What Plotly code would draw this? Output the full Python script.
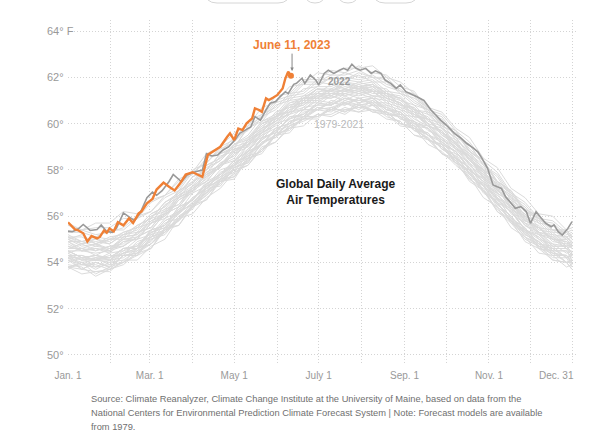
import plotly.graph_objects as go

# ---------------- data ----------------
GRAY_DAYS = [0, 10, 20, 30, 40, 50, 60, 70, 80, 90, 100, 110, 120, 130, 140, 150, 160, 170, 180,
             190, 200, 210, 220, 230, 240, 250, 260, 270, 280, 290, 300, 310, 320, 330, 340, 350, 360, 364]

t1979 = [53.9,53.8,53.4,53.7,54.0,54.3,54.6,55.5,55.6,56.4,56.9,57.5,57.7,58.6,58.8,59.5,59.8,60.2,60.3,60.6,60.4,60.8,60.5,60.5,60.0,59.8,59.3,59.0,58.4,57.9,57.0,56.6,55.7,55.3,54.6,54.4,54.0,54.0]
t1980 = [54.2,53.7,54.0,53.8,54.3,54.4,55.0,55.3,56.0,56.3,57.2,57.3,58.1,58.4,59.1,59.5,60.1,60.2,60.7,60.6,60.9,60.6,61.0,60.5,60.3,59.8,59.6,58.9,58.6,57.8,57.3,56.5,56.0,55.2,54.9,54.3,54.3,54.0]
t1981 = [54.3,53.9,53.9,53.7,54.3,54.3,55.0,55.2,55.9,56.4,57.1,57.5,58.1,58.3,59.2,59.5,60.0,60.3,60.6,60.7,60.9,60.8,60.9,60.4,60.4,59.8,59.5,59.0,58.6,57.8,57.4,56.5,56.0,55.2,54.9,54.4,54.3,54.0]
t1982 = [53.7,54.0,53.5,53.8,54.0,54.4,54.8,55.3,55.8,56.4,56.7,57.6,57.7,58.4,58.9,59.5,59.6,60.3,60.3,60.6,60.6,60.7,60.6,60.5,60.0,59.9,59.3,59.0,58.3,58.0,57.1,56.6,55.8,55.4,54.7,54.6,54.2,54.3]
t1983 = [54.4,54.1,54.1,54.1,54.4,54.6,55.3,55.5,56.1,56.6,57.2,57.6,58.2,58.5,59.2,59.4,60.1,60.3,60.7,60.6,61.0,60.8,60.9,60.4,60.3,59.7,59.4,58.7,58.5,57.6,57.1,56.3,55.8,55.1,54.7,54.2,54.2,53.8]
t1984 = [53.8,53.7,53.6,53.7,53.9,54.4,54.6,55.4,55.6,56.5,56.7,57.5,57.6,58.5,58.7,59.5,59.8,60.2,60.2,60.7,60.5,60.9,60.5,60.4,59.9,59.8,59.1,58.8,58.2,57.7,56.8,56.4,55.5,55.1,54.4,54.3,53.8,53.9]
t1985 = [53.8,53.5,53.6,53.6,54.1,54.1,54.7,55.0,55.9,56.1,56.8,57.2,57.9,58.2,59.0,59.2,59.9,60.1,60.4,60.4,60.7,60.5,60.8,60.3,60.1,59.5,59.4,58.7,58.3,57.6,57.2,56.2,55.7,55.0,54.7,54.1,54.0,53.7]
t1986 = [54.1,53.7,54.0,53.8,54.3,54.3,55.1,55.3,55.9,56.4,57.0,57.4,58.1,58.3,59.2,59.4,59.9,60.2,60.6,60.5,60.9,60.7,60.8,60.4,60.3,59.7,59.6,58.9,58.7,57.8,57.3,56.5,56.0,55.3,54.9,54.4,54.3,54.1]
t1987 = [54.2,54.0,54.1,54.0,54.4,54.6,55.1,55.4,56.2,56.5,57.2,57.6,58.3,58.6,59.4,59.6,60.3,60.4,60.9,60.8,61.1,61.0,61.1,60.6,60.5,60.0,59.8,59.1,58.8,58.0,57.6,56.7,56.2,55.4,55.1,54.6,54.6,54.3]
t1988 = [54.5,54.2,54.3,54.1,54.6,54.7,55.3,55.5,56.3,56.7,57.4,57.7,58.3,58.6,59.3,59.7,60.2,60.4,60.8,60.8,61.1,60.9,61.0,60.6,60.4,59.9,59.5,58.9,58.5,57.7,57.3,56.4,55.9,55.1,54.8,54.3,54.3,53.9]
t1989 = [53.8,53.9,53.8,53.9,54.0,54.6,54.8,55.5,55.8,56.5,57.0,57.6,57.9,58.7,59.1,59.7,59.9,60.5,60.6,60.9,60.8,61.1,60.8,60.7,60.2,60.0,59.5,59.2,58.5,58.1,57.3,56.8,55.9,55.5,54.8,54.6,54.2,54.3]
t1990 = [54.3,54.1,54.2,54.2,54.6,54.6,55.4,55.6,56.2,56.7,57.3,57.7,58.4,58.5,59.4,59.6,60.3,60.3,60.9,60.8,61.2,60.9,61.1,60.7,60.5,59.9,59.8,59.2,58.8,58.0,57.5,56.7,56.2,55.4,55.1,54.5,54.5,54.2]
t1991 = [54.2,54.2,54.1,54.3,54.3,54.9,55.1,55.8,56.1,56.8,57.2,57.8,58.2,58.8,59.1,59.8,60.0,60.6,60.6,60.9,60.8,61.1,60.8,60.8,60.2,60.1,59.3,59.1,58.3,58.0,57.1,56.6,55.8,55.4,54.7,54.5,54.0,54.1]
t1992 = [54.1,53.9,54.0,53.8,54.3,54.4,55.1,55.3,56.0,56.4,57.1,57.4,58.0,58.2,58.9,59.2,59.8,59.9,60.4,60.3,60.6,60.5,60.6,60.2,60.1,59.5,59.3,58.7,58.4,57.5,57.1,56.2,55.8,54.9,54.6,54.1,54.0,53.7]
t1993 = [53.8,54.0,53.7,54.0,54.1,54.5,54.8,55.4,55.8,56.5,56.9,57.5,57.8,58.5,58.8,59.6,59.7,60.3,60.3,60.7,60.5,60.8,60.6,60.5,60.0,59.8,59.3,59.1,58.4,57.9,57.1,56.6,55.7,55.4,54.6,54.5,54.0,54.1]
t1994 = [54.2,53.9,54.2,53.9,54.4,54.5,55.2,55.4,56.2,56.5,57.3,57.5,58.2,58.7,59.3,59.7,60.2,60.4,60.8,60.8,61.1,61.0,61.1,60.6,60.5,60.0,59.9,59.2,58.8,58.1,57.6,56.7,56.3,55.4,55.2,54.6,54.6,54.3]
t1995 = [54.5,54.2,54.3,54.2,54.6,54.7,55.4,55.6,56.4,56.7,57.5,57.8,58.4,58.8,59.5,59.8,60.4,60.6,61.0,60.9,61.3,61.1,61.2,60.8,60.6,60.1,59.8,59.1,58.8,58.0,57.5,56.6,56.2,55.4,55.0,54.5,54.5,54.1]
t1996 = [54.0,54.2,53.8,54.1,54.2,54.6,54.9,55.7,55.9,56.6,57.0,57.7,58.0,58.8,59.1,59.8,60.0,60.6,60.6,61.0,60.9,61.1,60.9,60.9,60.3,60.1,59.5,59.3,58.5,58.1,57.3,56.8,55.9,55.5,54.8,54.7,54.2,54.4]
t1997 = [54.3,54.1,54.2,54.1,54.5,54.7,55.3,55.6,56.3,56.7,57.4,57.8,58.4,58.9,59.6,60.0,60.5,60.7,61.2,61.1,61.4,61.3,61.4,61.0,60.8,60.3,60.2,59.6,59.2,58.4,58.0,57.1,56.6,55.8,55.5,55.0,54.9,54.7]
t1998 = [55.0,54.8,54.9,54.8,55.2,55.3,56.0,56.2,56.9,57.3,58.0,58.4,59.0,59.2,60.0,60.2,60.9,61.0,61.5,61.4,61.7,61.6,61.7,61.2,61.1,60.5,60.0,59.3,59.0,58.2,57.7,56.8,56.4,55.6,55.3,54.7,54.7,54.4]
t1999 = [54.3,54.3,54.1,54.2,54.4,54.8,55.1,55.8,56.1,56.8,57.2,57.9,58.1,58.9,59.3,60.0,60.2,60.7,60.8,61.2,61.0,61.3,61.1,61.0,60.4,60.3,59.7,59.4,58.7,58.3,57.4,57.0,56.1,55.7,55.0,54.8,54.4,54.5]
t2000 = [54.5,54.2,54.3,54.2,54.6,54.7,55.4,55.6,56.4,56.7,57.4,57.8,58.4,58.8,59.6,59.9,60.5,60.6,61.1,61.1,61.3,61.2,61.4,60.9,60.7,60.2,59.9,59.3,58.9,58.2,57.7,56.8,56.3,55.6,55.2,54.7,54.7,54.4]
t2001 = [54.4,54.6,54.3,54.6,54.7,55.1,55.4,56.1,56.4,57.1,57.5,58.2,58.4,59.1,59.5,60.2,60.4,61.0,61.0,61.3,61.3,61.5,61.2,61.2,60.7,60.5,59.9,59.7,59.0,58.5,57.7,57.2,56.4,56.0,55.2,55.1,54.7,54.8]
t2002 = [54.9,54.5,54.7,54.6,55.0,55.1,55.8,56.0,56.8,57.1,57.8,58.2,58.8,59.1,59.8,60.1,60.7,60.8,61.3,61.3,61.5,61.4,61.6,61.1,60.9,60.4,60.2,59.6,59.3,58.4,58.0,57.1,56.7,55.8,55.6,55.0,55.0,54.7]
t2003 = [54.6,54.8,54.5,54.7,54.8,55.3,55.5,56.3,56.5,57.3,57.7,58.3,58.6,59.2,59.6,60.3,60.5,61.1,61.1,61.4,61.4,61.6,61.3,61.3,60.8,60.6,59.9,59.7,58.9,58.6,57.7,57.2,56.3,56.0,55.3,55.1,54.6,54.8]
t2004 = [54.7,54.5,54.6,54.4,54.9,55.0,55.7,55.9,56.7,57.0,57.7,58.1,58.7,59.0,59.7,60.1,60.6,60.8,61.2,61.2,61.5,61.3,61.5,61.1,60.9,60.3,60.2,59.5,59.2,58.4,57.9,57.0,56.6,55.8,55.5,55.0,54.9,54.6]
t2005 = [54.9,54.6,54.8,54.5,55.1,55.2,55.8,56.1,56.8,57.2,57.9,58.2,58.9,59.1,59.9,60.2,60.8,60.9,61.4,61.4,61.6,61.5,61.6,61.2,61.0,60.5,60.3,59.6,59.2,58.5,58.0,57.1,56.7,55.9,55.5,55.0,55.0,54.7]
t2006 = [54.6,54.6,54.5,54.7,54.7,55.3,55.5,56.2,56.5,57.2,57.6,58.3,58.6,59.3,59.7,60.3,60.6,61.1,61.2,61.5,61.4,61.6,61.4,61.4,60.8,60.7,60.1,59.9,59.1,58.7,57.9,57.4,56.5,56.1,55.4,55.3,54.8,54.9]
t2007 = [55.0,54.7,54.8,54.6,55.1,55.2,55.9,56.1,56.9,57.2,57.9,58.2,58.9,59.0,59.8,60.1,60.7,60.9,61.3,61.2,61.5,61.4,61.5,61.1,60.9,60.4,60.0,59.4,59.0,58.3,57.8,56.9,56.4,55.7,55.3,54.8,54.7,54.4]
t2008 = [54.3,54.3,54.1,54.4,54.5,55.0,55.2,55.9,56.2,57.0,57.3,58.0,58.2,59.1,59.4,60.1,60.4,60.9,60.9,61.3,61.2,61.4,61.2,61.1,60.6,60.4,59.9,59.6,58.9,58.5,57.6,57.2,56.3,55.9,55.2,55.0,54.6,54.7]
t2009 = [54.7,54.5,54.6,54.5,55.0,55.0,55.7,56.0,56.7,57.1,57.8,58.1,58.8,59.2,60.0,60.3,60.8,61.0,61.5,61.4,61.7,61.5,61.7,61.3,61.1,60.6,60.5,59.8,59.4,58.7,58.2,57.3,56.9,56.0,55.8,55.2,55.1,54.9]
t2010 = [55.2,54.9,55.1,55.0,55.3,55.5,56.1,56.4,57.1,57.4,58.2,58.5,59.1,59.3,60.1,60.3,61.0,61.1,61.5,61.5,61.8,61.7,61.8,61.3,61.2,60.6,60.2,59.5,59.1,58.4,57.9,57.0,56.6,55.7,55.5,54.9,54.8,54.6]
t2011 = [54.5,54.5,54.4,54.5,54.7,55.1,55.4,56.1,56.4,57.2,57.5,58.2,58.5,59.3,59.6,60.4,60.5,61.1,61.1,61.5,61.4,61.7,61.4,61.3,60.8,60.7,60.0,59.8,59.1,58.6,57.8,57.3,56.4,56.1,55.3,55.2,54.7,54.8]
t2012 = [54.8,54.5,54.6,54.5,54.9,55.0,55.7,56.0,56.8,57.1,57.8,58.1,58.7,59.3,60.0,60.3,60.9,61.1,61.5,61.4,61.8,61.6,61.7,61.3,61.1,60.6,60.4,59.8,59.4,58.6,58.1,57.3,56.8,56.0,55.7,55.1,55.1,54.8]
t2013 = [54.9,54.9,54.7,55.0,55.0,55.5,55.7,56.5,56.8,57.5,57.8,58.6,58.8,59.4,59.8,60.5,60.7,61.2,61.3,61.7,61.5,61.8,61.6,61.5,61.0,60.8,60.2,60.0,59.3,58.8,58.0,57.5,56.7,56.3,55.5,55.4,55.0,55.1]
t2014 = [55.1,54.8,55.0,54.8,55.2,55.4,56.0,56.3,57.0,57.4,58.1,58.4,59.1,59.4,60.1,60.4,61.1,61.2,61.6,61.6,61.9,61.8,61.9,61.4,61.3,60.8,60.6,60.0,59.7,58.8,58.4,57.5,57.1,56.2,56.0,55.4,55.4,55.1]
t2015 = [55.0,55.2,54.8,55.1,55.2,55.6,55.9,56.6,57.0,57.7,58.0,58.7,59.0,59.8,60.1,60.8,61.0,61.5,61.6,62.0,61.9,62.1,61.8,61.8,61.3,61.1,60.7,60.5,59.8,59.4,58.5,58.1,57.2,56.8,56.1,56.0,55.4,55.5]
t2016 = [55.7,55.4,55.7,55.7,56.2,56.1,56.7,56.9,57.5,57.8,58.5,58.8,59.4,59.7,60.4,60.7,61.3,61.4,61.9,61.9,62.2,62.0,62.1,61.7,61.5,61.0,60.6,59.9,59.6,58.8,58.4,57.4,57.0,56.2,55.9,55.4,55.3,55.0]
t2017 = [55.3,55.3,55.1,55.4,55.4,55.9,56.2,56.8,57.1,57.9,58.3,58.9,59.2,59.8,60.2,60.9,61.1,61.7,61.7,62.0,61.9,62.2,62.0,61.9,61.4,61.2,60.4,60.2,59.4,59.1,58.2,57.7,56.8,56.4,55.7,55.6,55.1,55.2]
t2018 = [55.1,54.9,55.0,54.9,55.3,55.5,56.1,56.4,57.1,57.5,58.2,58.5,59.1,59.5,60.3,60.6,61.2,61.3,61.8,61.7,62.0,61.9,62.0,61.6,61.4,60.9,60.6,59.9,59.6,58.8,58.3,57.5,57.0,56.2,55.9,55.3,55.3,55.0]
t2019 = [55.3,55.4,55.2,55.3,55.5,56.0,56.2,56.9,57.2,58.0,58.3,59.0,59.3,60.1,60.4,61.2,61.3,61.9,61.9,62.3,62.2,62.5,62.2,62.1,61.6,61.4,60.6,60.4,59.7,59.2,58.4,57.9,57.0,56.6,55.9,55.8,55.3,55.4]
t2020 = [55.6,55.4,55.5,55.5,55.9,55.9,56.6,56.9,57.6,57.9,58.7,59.0,59.6,59.9,60.7,60.9,61.6,61.7,62.2,62.1,62.4,62.4,62.5,62.0,61.8,61.3,60.7,60.0,59.7,58.9,58.4,57.5,57.1,56.3,56.0,55.4,55.4,55.1]
t2021 = [55.1,55.1,54.8,55.0,55.1,55.6,55.9,56.6,56.9,57.7,58.0,58.7,58.9,59.9,60.3,61.0,61.2,61.8,61.8,62.1,62.1,62.3,62.0,62.0,61.4,61.3,60.5,60.3,59.5,59.1,58.2,57.8,56.9,56.5,55.8,55.7,55.2,55.3]

GRAY_SERIES = [t1979, t1980, t1981, t1982, t1983, t1984, t1985, t1986, t1987, t1988,
               t1989, t1990, t1991, t1992, t1993, t1994, t1995, t1996, t1997, t1998,
               t1999, t2000, t2001, t2002, t2003, t2004, t2005, t2006, t2007, t2008,
               t2009, t2010, t2011, t2012, t2013, t2014, t2015, t2016, t2017, t2018,
               t2019, t2020, t2021]

DAYS_2022 = [0,3,7,11,16,21,24,28,32,35,40,44,48,52,57,61,64,68,73,76,79,82,86,92,97,100,104,108,112,116,
             121,124,128,132,135,139,143,146,150,153,157,159,163,165,169,171,175,179,181,185,188,192,196,199,
             202,205,208,211,215,219,222,226,229,233,237,240,244,247,252,257,262,266,269,273,276,279,284,288,
             293,296,299,303,305,307,310,313,316,320,323,327,331,334,338,342,345,349,351,354,357,361,364]
VALS_2022 = [55.35,55.33,55.43,55.64,55.38,55.42,55.62,55.34,55.30,55.47,56.14,55.95,55.80,56.12,56.80,57.04,
             56.90,57.10,57.50,57.80,57.63,57.48,57.78,57.92,57.99,58.70,58.60,58.64,58.86,59.00,59.32,59.58,
             59.72,59.86,60.30,60.15,60.59,60.88,60.95,61.16,61.38,61.30,61.70,61.74,61.96,61.74,62.10,61.88,
             61.67,62.17,62.31,62.17,62.31,62.39,62.31,62.57,62.39,62.31,62.39,62.17,62.28,62.17,61.88,61.74,
             61.52,61.67,61.38,61.31,61.16,61.00,60.60,60.35,60.15,59.95,59.75,59.58,59.36,59.14,58.93,58.78,
             58.50,58.07,57.70,57.35,57.27,57.20,56.84,56.55,56.34,56.41,56.19,55.69,56.19,55.90,55.69,55.54,
             55.62,55.33,55.18,55.47,55.76]

DAYS_2023 = [0,5,7,11,14,17,21,23,26,28,30,33,36,40,44,47,51,53,57,61,64,69,73,77,81,85,90,93,97,101,
             106,110,115,117,120,123,126,129,133,135,138,140,143,145,148,151,155,157,159,161]
VALS_2023 = [55.73,55.43,55.40,55.26,54.90,55.14,55.04,55.10,55.38,55.28,55.47,55.34,55.74,55.60,55.90,
             55.70,56.12,56.20,56.55,56.74,57.15,57.45,57.27,57.11,57.42,57.80,57.90,57.82,57.70,58.65,
             58.86,59.00,59.43,59.58,59.29,59.79,59.72,60.01,60.23,60.66,60.59,60.51,61.09,61.02,61.12,
             61.23,61.52,61.96,62.24,62.07]

Y_TICKS = [50, 52, 54, 56, 58, 60, 62, 64]
Y_TICK_TEXT = ["50°", "52°", "54°", "56°", "58°", "60°", "62°", "64° F"]
MONTH_DAYS = [0, 31, 59, 90, 120, 151, 181, 212, 243, 273, 304, 334, 364]
MONTH_TEXT = ["Jan. 1", "", "Mar. 1", "", "May 1", "", "July 1", "", "Sep. 1", "", "Nov. 1", "", ""]
LAST_DAY_LABEL = "Dec. 31"

SOURCE_LINES = [
    "Source: Climate Reanalyzer, Climate Change Institute at the University of Maine, based on data from the",
    "National Centers for Environmental Prediction Climate Forecast System | Note: Forecast models are available",
    "from 1979.",
]

# ---------------- styling ----------------
FONT = "Liberation Sans, Arial, sans-serif"
ORANGE = "#EF8036"
L, W, T, H = 68, 510, 20, 343
WIDTH, HEIGHT = 599, 446


def pxx(x):
    return (x - L) / W


def pxy(y):
    return (T + H - y) / H


def rrect(x0, y0, x1, y1, r):
    def p(x, y):
        return f"{pxx(x):.5f},{pxy(y):.5f}"
    return (f"M {p(x0 + r, y0)} L {p(x1 - r, y0)} Q {p(x1, y0)} {p(x1, y0 + r)} "
            f"L {p(x1, y1 - r)} Q {p(x1, y1)} {p(x1 - r, y1)} L {p(x0 + r, y1)} "
            f"Q {p(x0, y1)} {p(x0, y1 - r)} L {p(x0, y0 + r)} Q {p(x0, y0)} {p(x0 + r, y0)} Z")


fig = go.Figure()

for vals in GRAY_SERIES:
    fig.add_trace(go.Scatter(x=GRAY_DAYS, y=vals, mode="lines",
                             line=dict(color="#dbdbdb", width=1), hoverinfo="skip", showlegend=False))

fig.add_trace(go.Scatter(x=DAYS_2022, y=VALS_2022, mode="lines",
                         line=dict(color="#999999", width=1.6), hoverinfo="skip", showlegend=False))
fig.add_trace(go.Scatter(x=DAYS_2023, y=VALS_2023, mode="lines",
                         line=dict(color=ORANGE, width=2.4), hoverinfo="skip", showlegend=False))
fig.add_trace(go.Scatter(x=[DAYS_2023[-1]], y=[VALS_2023[-1]], mode="markers",
                         marker=dict(color=ORANGE, size=6), hoverinfo="skip", showlegend=False))

annotations = []
for v, txt in zip(Y_TICKS, Y_TICK_TEXT):
    annotations.append(dict(x=pxx(45), xref="paper", y=v, yref="y", text=txt, showarrow=False,
                            xanchor="left", yanchor="middle", font=dict(family=FONT, size=11, color="#999999")))
annotations.append(dict(x=MONTH_DAYS[-1], xref="x", y=pxy(375), yref="paper", text=LAST_DAY_LABEL,
                        showarrow=False, xanchor="right", yanchor="middle", xshift=4,
                        font=dict(family=FONT, size=10, color="#999999")))
for i, line in enumerate(SOURCE_LINES):
    annotations.append(dict(x=pxx(89), xref="paper", y=pxy(399 + 14 * i), yref="paper", text=line,
                            showarrow=False, xanchor="left", yanchor="middle",
                            font=dict(family=FONT, size=9.3, color="#6f6f6f")))
annotations.append(dict(x=193.5, y=57.05, text="<b>Global Daily Average<br>Air Temperatures</b>",
                        showarrow=False, xanchor="center", yanchor="middle",
                        font=dict(family=FONT, size=12, color="#1a1a1a")))
annotations.append(dict(x=196, y=61.8, text="<b>2022</b>", showarrow=False,
                        font=dict(family=FONT, size=10, color="#999999")))
annotations.append(dict(x=196, y=59.98, text="1979-2021", showarrow=False,
                        font=dict(family=FONT, size=10.5, color="#bbbbbb")))
annotations.append(dict(x=161.8, y=62.27, text="<b>June 11, 2023</b>", showarrow=True,
                        ax=0, ay=-26, arrowcolor="#888888", arrowwidth=1, arrowhead=2, arrowsize=0.7,
                        standoff=0, font=dict(family=FONT, size=12, color=ORANGE)))

shapes = []
for (x0, y0, x1, y1, r) in [(205, -30, 290, 3, 12), (305, -17, 325, 3, 10),
                            (338, -17, 358, 3, 10), (373, -30, 418, 3, 12)]:
    shapes.append(dict(type="path", xref="paper", yref="paper", path=rrect(x0, y0, x1, y1, r),
                       line=dict(color="#d6d6d6", width=1)))

fig.update_layout(
    width=WIDTH, height=HEIGHT, autosize=False,
    margin=dict(l=L, r=WIDTH - L - W, t=T, b=HEIGHT - T - H, pad=0),
    paper_bgcolor="white", plot_bgcolor="white",
    showlegend=False, hovermode=False,
    annotations=annotations, shapes=shapes,
    xaxis=dict(range=[0, 368.3], tickvals=MONTH_DAYS, ticktext=MONTH_TEXT, showgrid=True,
               gridcolor="#d4d4d4", griddash="1px,2px", gridwidth=1, zeroline=False, showline=False,
               ticks="", tickfont=dict(family=FONT, size=10, color="#999999"), ticklabelstandoff=5,
               fixedrange=True),
    yaxis=dict(range=[49.65, 64.48], tickvals=Y_TICKS, showticklabels=False, showgrid=True,
               gridcolor="#d4d4d4", griddash="1px,2px", gridwidth=1, zeroline=False, showline=False,
               ticks="", fixedrange=True),
)

fig.write_html("out.html")
